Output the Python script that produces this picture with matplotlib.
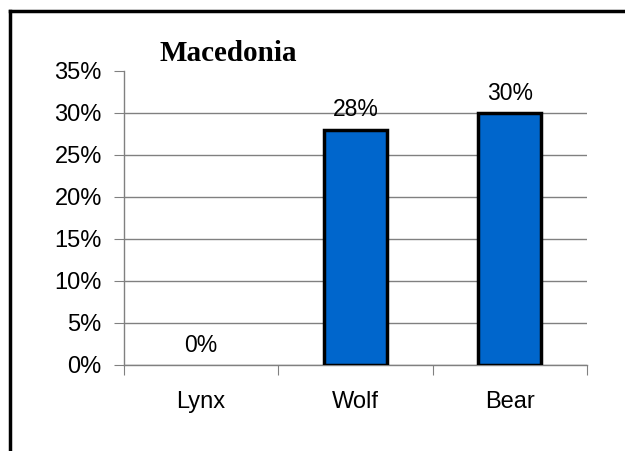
import numpy as np
import matplotlib
matplotlib.use('Agg')
import matplotlib.pyplot as plt
from matplotlib.lines import Line2D
from matplotlib.ticker import FixedLocator, PercentFormatter

# data
animals = ['Lynx', 'Wolf', 'Bear']
shares = [0, 28, 30]
title = 'Macedonia'

plt.rcParams['font.family'] = ['Liberation Sans', 'DejaVu Sans']

fig = plt.figure(figsize=(6.25, 4.51), dpi=100)
ax = fig.add_axes([0.1984, 0.1907, 0.7408, 0.6519])

x = np.arange(len(animals))
edges = ['black' if v > 0 else 'none' for v in shares]
ax.bar(x, shares, width=0.41, color='#0066CC', edgecolor=edges, linewidth=2.5, zorder=3)

for xi, v in zip(x, shares):
    ax.annotate(f'{v}%', (xi, v), xytext=(0, 6), textcoords='offset points',
                ha='center', va='bottom', fontsize=16.5)

ax.set_xlim(-0.5, len(animals) - 0.5)
ax.set_ylim(0, 35)
ax.set_yticks(np.arange(0, 36, 5))
ax.yaxis.set_major_formatter(PercentFormatter(decimals=0))
ax.grid(axis='y', color='#808080', linewidth=1, zorder=0)
ax.yaxis.get_gridlines()[-1].set_visible(False)

# ticks at category boundaries, labels at category centres
ax.xaxis.set_major_locator(FixedLocator(np.arange(-0.5, len(animals), 1)))
ax.xaxis.set_major_formatter(plt.NullFormatter())
ax.xaxis.set_minor_locator(FixedLocator(x))
ax.set_xticklabels(animals, minor=True)
ax.tick_params(axis='x', which='major', length=7, color='#808080', direction='out')
ax.tick_params(axis='x', which='minor', length=0, pad=19, labelsize=17)
ax.tick_params(axis='y', length=7, color='#808080', pad=9, labelsize=17)

for s in ['top', 'right']:
    ax.spines[s].set_visible(False)
for s in ['left', 'bottom']:
    ax.spines[s].set_color('#808080')
    ax.spines[s].set_linewidth(1)

fig.text(0.256, 0.882, title, fontsize=21, fontweight='bold',
         family=['Liberation Serif', 'DejaVu Serif'], ha='left', va='center')

# chart frame (only top and left edges are visible in the crop)
fig.add_artist(Line2D([0.0152, 1.0], [0.9756, 0.9756], color='black', linewidth=2.5,
                      transform=fig.transFigure))
fig.add_artist(Line2D([0.0152, 0.0152], [0.0, 0.9756], color='black', linewidth=2.5,
                      transform=fig.transFigure))

fig.savefig('out.png', dpi=100)
